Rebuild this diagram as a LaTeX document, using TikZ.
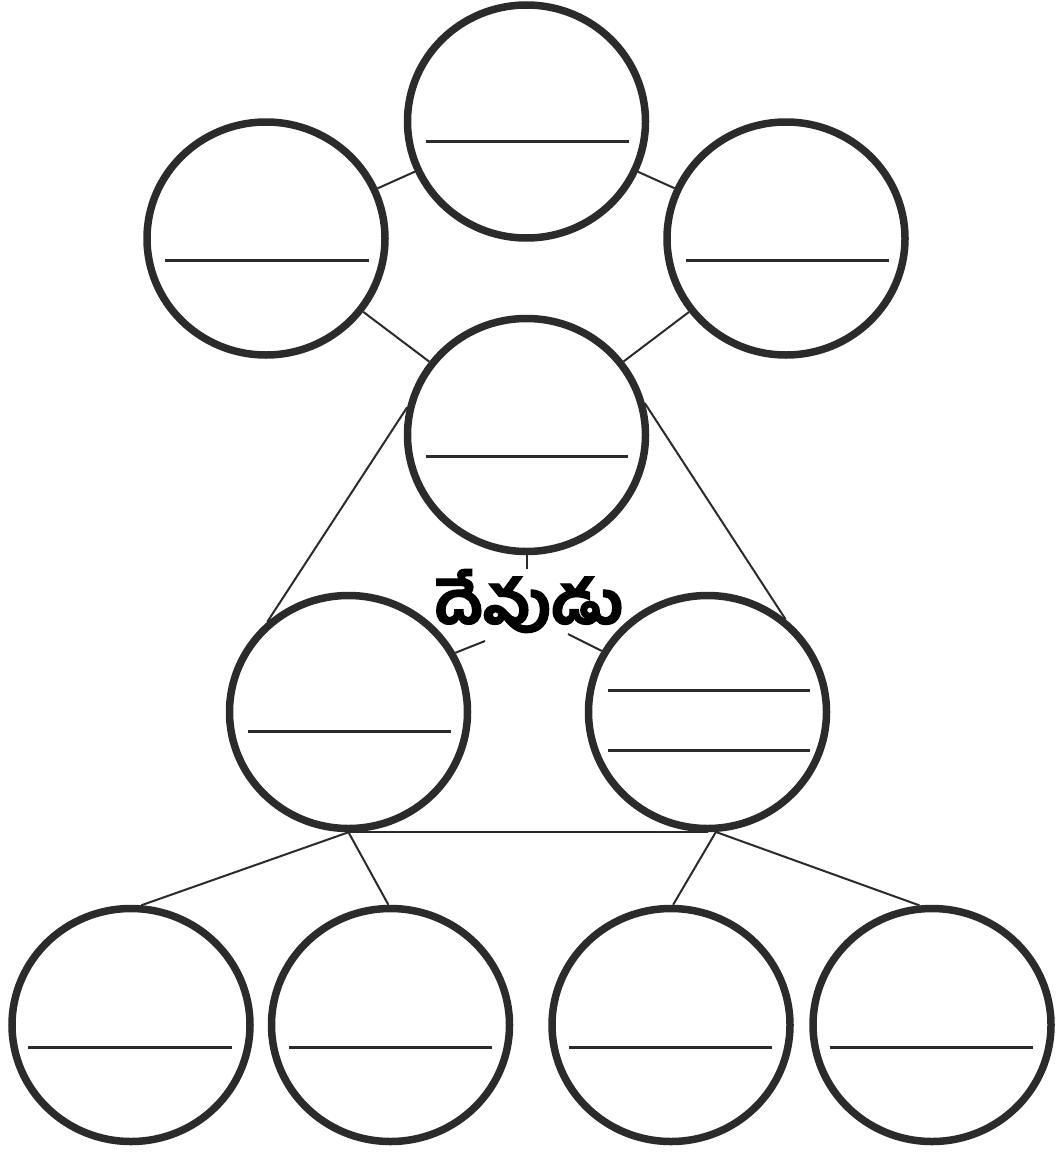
\documentclass[tikz,border=0pt]{standalone}
\usepackage{fontspec}
\usetikzlibrary{shapes.geometric}
\newfontfamily\telugu[Script=Telugu,FakeBold=2]{Hind Guntur Bold}
\definecolor{ink}{gray}{0.17}
\begin{document}
\begin{tikzpicture}[x=1pt,y=-1pt,
  bubble/.style={ellipse,draw=ink,line width=7.5pt,minimum width=238pt,minimum height=233pt,inner sep=0pt},
  link/.style={draw=ink,line width=2pt},
  blank/.style={draw=ink,line width=3pt}]
\useasboundingbox (0,0) rectangle (1059,1156);
% bubbles
\node[bubble] (tc) at (526.5,121.5) {};
\node[bubble] (tl) at (266,238.5) {};
\node[bubble] (tr) at (786,238.5) {};
\node[bubble] (m)  at (526.5,435) {};
\node[bubble] (ml) at (348.5,712) {};
\node[bubble] (mr) at (707.5,712) {};
\node[bubble] (b1) at (131,1025) {};
\node[bubble] (b2) at (390.5,1025) {};
\node[bubble] (b3) at (671,1025) {};
\node[bubble] (b4) at (932,1025) {};
% central word
\node[inner sep=0pt,font={\telugu\fontsize{59}{66}\selectfont}] (god) at (529,601) {దేవుడు};
% connectors
\draw[link] (tl) -- (tc);
\draw[link] (tr) -- (tc);
\draw[link] (tl) -- (m);
\draw[link] (tr) -- (m);
\draw[link] (m.167) -- (ml.132);
\draw[link] (m.15) -- (mr.50);
\draw[link] (m.south) -- (m.south |- god.north);
\draw[link] ([shift={(-44,40)}]god.center) -- (ml.29);
\draw[link] ([shift={(39,33)}]god.center) -- (mr.150);
\draw[link] (ml.south) -- (mr.south);
\draw[link] (ml.south) -- (b1.85);
\draw[link] (ml.south) -- (b2.91);
\draw[link] (mr.-86) -- (b3.89);
\draw[link] (mr.-86) -- (b4.96);
% answer blanks
\draw[blank] ([shift={(-101,20)}]tc.center) -- ++(203,0);
\draw[blank] ([shift={(-101,21.5)}]tl.center) -- ++(204,0);
\draw[blank] ([shift={(-100,21.5)}]tr.center) -- ++(203,0);
\draw[blank] ([shift={(-101,21)}]m.center) -- ++(202,0);
\draw[blank] ([shift={(-101,19)}]ml.center) -- ++(203,0);
\draw[blank] ([shift={(-100,-22)}]mr.center) -- ++(202,0);
\draw[blank] ([shift={(-100,38)}]mr.center) -- ++(202,0);
\draw[blank] ([shift={(-103,22)}]b1.center) -- ++(204,0);
\draw[blank] ([shift={(-101.5,22)}]b2.center) -- ++(203,0);
\draw[blank] ([shift={(-102,22)}]b3.center) -- ++(203,0);
\draw[blank] ([shift={(-102,22)}]b4.center) -- ++(203,0);
\end{tikzpicture}
\end{document}
